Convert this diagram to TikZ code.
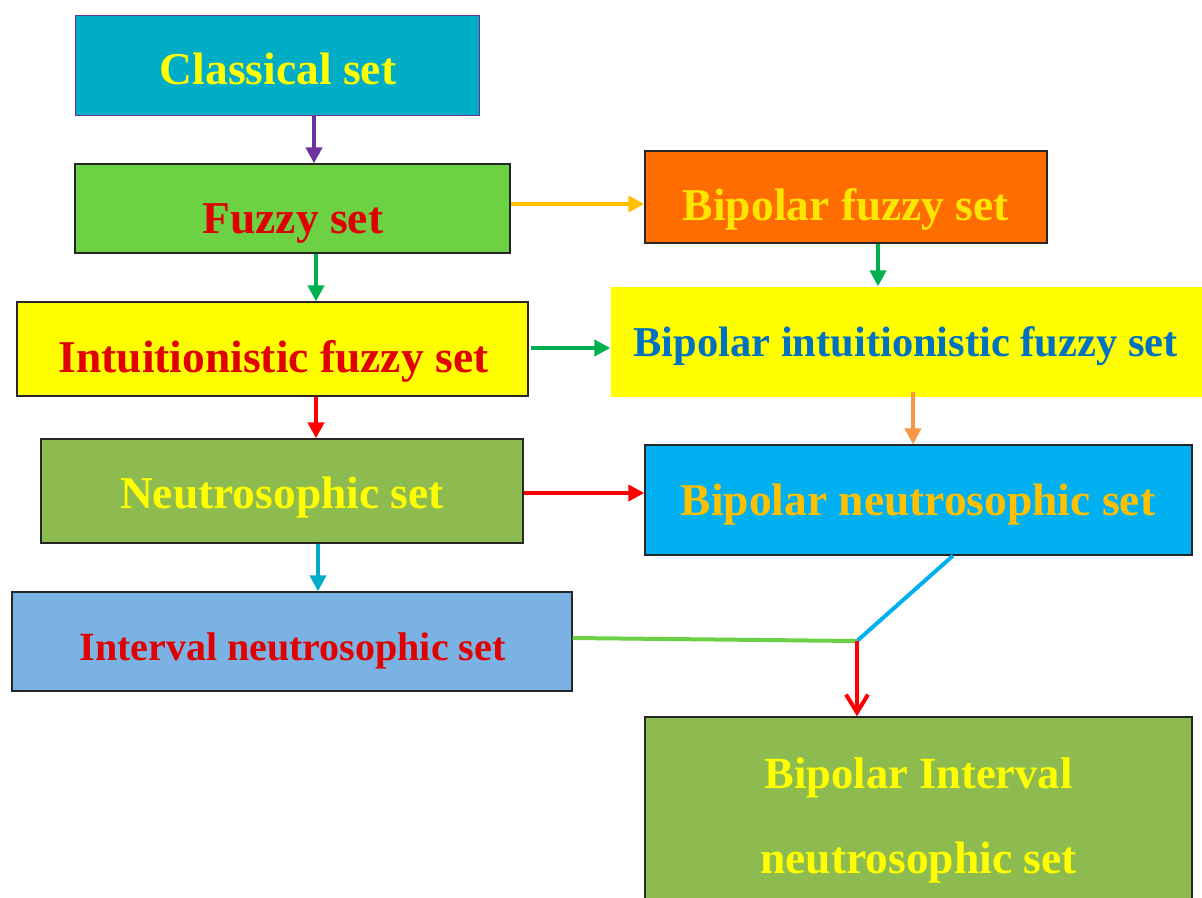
\documentclass[tikz,border=0pt]{standalone}
\usepackage{fontspec}
\setmainfont{Liberation Serif}
\usetikzlibrary{arrows.meta,calc}
\definecolor{cCls}{RGB}{0,173,198}
\definecolor{cPurple}{RGB}{112,48,160}
\definecolor{cFz}{RGB}{109,209,68}
\definecolor{cOr}{RGB}{255,109,0}
\definecolor{cYel}{RGB}{255,255,0}
\definecolor{cNs}{RGB}{141,187,80}
\definecolor{cSky}{RGB}{0,176,240}
\definecolor{cInt}{RGB}{122,179,227}
\definecolor{tRed}{RGB}{224,0,0}
\definecolor{tGold}{RGB}{255,192,0}
\definecolor{tPale}{RGB}{255,230,0}
\definecolor{tBlue}{RGB}{0,112,192}
\definecolor{aGreen}{RGB}{0,176,80}
\definecolor{aRed}{RGB}{255,0,0}
\definecolor{aOrange}{RGB}{247,150,70}
\definecolor{aTeal}{RGB}{0,172,198}
\definecolor{aLime}{RGB}{108,208,68}
\begin{document}
\begin{tikzpicture}[x=1pt,y=-1pt,
  box/.style={draw=black!85, line width=1.3pt, inner sep=0pt, rectangle},
  lbl/.style={anchor=base, inner sep=0pt, font=\fontsize{45.5}{50}\selectfont\bfseries},
  arr/.style={line width=4pt, -{Triangle[length=16pt,width=16pt]}},
  plain/.style={line width=4pt}]
\useasboundingbox (0,0) rectangle (1202,897);
% boxes
\node[box, draw=cPurple, line width=1pt, fill=cCls, minimum width=404pt, minimum height=100pt] (cls) at (277,65) {};
\node[box, fill=cFz, minimum width=435pt, minimum height=89pt] (fz) at (292.5,208.5) {};
\node[box, fill=cOr, minimum width=402pt, minimum height=92pt] (bf) at (846,197) {};
\node[box, fill=cYel, minimum width=511pt, minimum height=94pt] (ifs) at (272.5,349) {};
\node[box, draw=none, fill=cYel, minimum width=591pt, minimum height=110pt] (bif) at (906.5,342) {};
\node[box, fill=cNs, minimum width=482pt, minimum height=104pt] (ns) at (282,491) {};
\node[box, fill=cSky, minimum width=547pt, minimum height=110pt] (bn) at (918.5,500) {};
\node[box, fill=cInt, minimum width=560pt, minimum height=99pt] (ins) at (292,641.5) {};
\node[box, fill=cNs, minimum width=547pt, minimum height=186pt] (bins) at (918.5,810) {};
% labels
\node[lbl, text=cYel] (tcls) at (278,84) {Classical set};
\node[lbl, text=tRed] (tfz) at (293,233) {Fuzzy set};
\node[lbl, text=tPale] (tbf) at (846,220.5) {Bipolar fuzzy set};
\node[lbl, text=tRed] (tifs) at (273.5,372) {Intuitionistic fuzzy set};
\node[lbl, text=tBlue, font=\fontsize{42.5}{48}\selectfont\bfseries] (tbif) at (905.5,356.5) {Bipolar intuitionistic fuzzy set};
\node[lbl, text=cYel] (tns) at (282,508) {Neutrosophic set};
\node[lbl, text=tGold] (tbn) at (918,515) {Bipolar neutrosophic set};
\node[lbl, text=tRed, font=\fontsize{40}{46}\selectfont\bfseries] (tins) at (292.5,660) {Interval neutrosophic set};
\node[lbl, text=cYel, font=\fontsize{44.5}{50}\selectfont\bfseries] (tbins1) at (918.5,788) {Bipolar Interval};
\node[lbl, text=cYel] (tbins2) at (918.5,873) {neutrosophic set};
% connectors
\draw[arr, cPurple] ([xshift=37pt]cls.south) -- ([xshift=37pt]cls.south |- fz.north);
\draw[arr, aGreen] ([xshift=23.5pt]fz.south) -- ([xshift=23.5pt]fz.south |- ifs.north);
\draw[arr, tGold] ([yshift=4.5pt]fz.east) -- ([yshift=4.5pt]fz.east -| bf.west);
\draw[arr, aGreen] ([xshift=32pt]bf.south) -- ([xshift=32pt]bf.south |- bif.north);
\draw[arr, aGreen] ([xshift=2pt,yshift=1pt]ifs.east) -- ([yshift=1pt]ifs.east -| bif.west);
\draw[arr, aRed] ([xshift=43.5pt]ifs.south) -- ([xshift=43.5pt]ifs.south |- ns.north);
\draw[arr, aOrange] ([xshift=6.5pt,yshift=6pt]bif.south) -- ([xshift=6.5pt]bif.south |- bn.north);
\draw[arr, aRed] ([yshift=-2pt]ns.east) -- ([yshift=-2pt]ns.east -| bn.west);
\draw[arr, aTeal] ([xshift=36pt]ns.south) -- ([xshift=36pt]ns.south |- ins.north);
\coordinate (J) at (857,641);
\draw[plain, cSky] ([xshift=34.5pt]bn.south) -- (J);
\draw[plain, aLime] ([yshift=3.5pt]ins.east) -- (J);
\draw[line width=4pt, aRed, -{Straight Barb[length=18pt,width=22pt]}] (J) -- (J |- bins.north);
\end{tikzpicture}
\end{document}
